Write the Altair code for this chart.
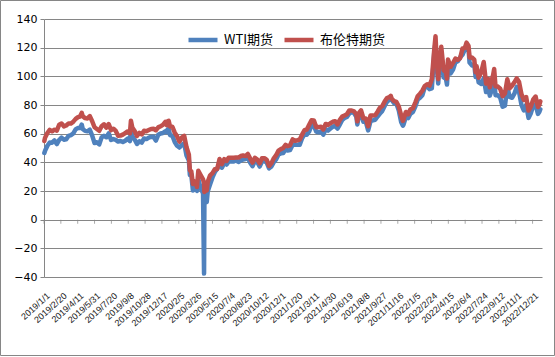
import altair as alt
import pandas as pd

# ---------------- data (weekly readings, plus notable days) ----------------
dates_2019 = [
    "2019-01-02", "2019-01-04", "2019-01-11", "2019-01-18", "2019-01-25",
    "2019-02-01", "2019-02-08", "2019-02-15", "2019-02-22",
    "2019-03-01", "2019-03-08", "2019-03-15", "2019-03-22", "2019-03-29",
    "2019-04-05", "2019-04-12", "2019-04-18", "2019-04-23", "2019-04-26",
    "2019-05-03", "2019-05-10", "2019-05-17", "2019-05-24", "2019-05-31",
    "2019-06-07", "2019-06-14", "2019-06-21", "2019-06-28",
    "2019-07-05", "2019-07-12", "2019-07-19", "2019-07-26",
    "2019-08-02", "2019-08-09", "2019-08-16", "2019-08-23", "2019-08-30",
    "2019-09-06", "2019-09-13", "2019-09-16", "2019-09-20", "2019-09-27",
    "2019-10-04", "2019-10-11", "2019-10-18", "2019-10-25",
    "2019-11-01", "2019-11-08", "2019-11-15", "2019-11-22", "2019-11-29",
    "2019-12-06", "2019-12-13", "2019-12-20", "2019-12-27", "2019-12-31",
]
wti_2019 = [
    46.54, 47.96, 51.59, 53.80, 53.69,
    55.26, 52.72, 55.59, 57.26,
    55.80, 56.07, 58.52, 59.04, 60.14,
    63.08, 63.89, 64.00, 66.30, 63.30,
    61.94, 61.66, 62.76, 58.63, 53.50,
    54.00, 52.51, 57.43, 58.47,
    57.51, 60.21, 55.63, 56.20,
    55.66, 54.50, 54.87, 54.17, 55.10,
    56.52, 54.85, 62.90, 58.09, 55.91,
    52.81, 54.70, 53.78, 56.66,
    56.20, 57.24, 57.72, 57.77, 55.17,
    59.20, 60.07, 60.44, 61.72, 61.06,
]
brent_2019 = [
    54.91, 57.06, 60.48, 62.70, 61.64,
    62.75, 62.10, 66.25, 67.12,
    65.07, 65.74, 67.16, 67.03, 68.39,
    70.34, 71.55, 71.97, 74.51, 72.15,
    70.85, 70.62, 72.21, 68.69, 64.49,
    63.29, 62.01, 65.20, 66.55,
    64.23, 66.72, 62.47, 63.46,
    61.89, 58.53, 58.64, 59.34, 60.43,
    61.54, 60.22, 69.02, 64.28, 61.91,
    58.37, 60.51, 59.42, 62.02,
    61.69, 62.51, 63.30, 63.39, 62.43,
    64.39, 65.22, 66.14, 68.16, 66.00,
]

dates_2020 = [
    "2020-01-03", "2020-01-06", "2020-01-10", "2020-01-17", "2020-01-24", "2020-01-31",
    "2020-02-07", "2020-02-14", "2020-02-21", "2020-02-28",
    "2020-03-06", "2020-03-09", "2020-03-13", "2020-03-18", "2020-03-20", "2020-03-27", "2020-03-30",
    "2020-04-03", "2020-04-09", "2020-04-17", "2020-04-20", "2020-04-21", "2020-04-24", "2020-04-28",
    "2020-05-01", "2020-05-08", "2020-05-15", "2020-05-22", "2020-05-29",
    "2020-06-05", "2020-06-12", "2020-06-19", "2020-06-26",
    "2020-07-02", "2020-07-10", "2020-07-17", "2020-07-24", "2020-07-31",
    "2020-08-07", "2020-08-14", "2020-08-21", "2020-08-28",
    "2020-09-04", "2020-09-11", "2020-09-18", "2020-09-25",
    "2020-10-02", "2020-10-09", "2020-10-16", "2020-10-23", "2020-10-30",
    "2020-11-06", "2020-11-13", "2020-11-20", "2020-11-27",
    "2020-12-04", "2020-12-11", "2020-12-18", "2020-12-24", "2020-12-31",
]
wti_2020 = [
    63.05, 63.27, 59.04, 58.54, 54.19, 51.56,
    50.32, 52.05, 53.38, 44.76,
    41.28, 31.13, 31.73, 20.37, 22.43, 21.51, 20.09,
    28.34, 22.76, 18.27, -37.63, 10.01, 16.94, 12.34,
    19.78, 24.74, 29.43, 33.25, 35.49,
    39.55, 36.26, 39.75, 38.49,
    40.65, 40.55, 40.59, 41.29, 40.27,
    41.22, 42.01, 42.34, 42.97,
    39.77, 37.33, 41.11, 40.25,
    37.05, 40.60, 40.88, 39.85, 35.79,
    37.14, 40.13, 42.15, 45.53,
    46.26, 46.57, 49.10, 48.23, 48.52,
]
brent_2020 = [
    68.60, 68.91, 64.98, 64.85, 60.69, 58.16,
    54.47, 57.32, 58.50, 50.52,
    45.27, 34.36, 33.85, 24.88, 26.98, 24.93, 22.76,
    34.11, 31.48, 28.08, 25.57, 19.33, 21.44, 20.46,
    26.44, 30.97, 32.50, 35.13, 35.33,
    42.30, 38.73, 42.19, 41.02,
    43.14, 43.24, 43.14, 43.34, 43.30,
    44.40, 44.80, 44.35, 45.81,
    42.66, 39.83, 43.15, 41.92,
    39.27, 42.85, 42.93, 41.77, 37.46,
    39.45, 42.78, 44.96, 48.18,
    49.25, 49.97, 52.26, 51.29, 51.80,
]

dates_2021 = [
    "2021-01-08", "2021-01-15", "2021-01-22", "2021-01-29",
    "2021-02-05", "2021-02-12", "2021-02-19", "2021-02-26",
    "2021-03-05", "2021-03-12", "2021-03-19", "2021-03-26",
    "2021-04-02", "2021-04-09", "2021-04-16", "2021-04-23", "2021-04-30",
    "2021-05-07", "2021-05-14", "2021-05-21", "2021-05-28",
    "2021-06-04", "2021-06-11", "2021-06-18", "2021-06-25",
    "2021-07-02", "2021-07-09", "2021-07-16", "2021-07-19", "2021-07-23", "2021-07-30",
    "2021-08-06", "2021-08-13", "2021-08-20", "2021-08-27",
    "2021-09-03", "2021-09-10", "2021-09-17", "2021-09-24",
    "2021-10-01", "2021-10-08", "2021-10-15", "2021-10-22", "2021-10-26", "2021-10-29",
    "2021-11-05", "2021-11-12", "2021-11-19", "2021-11-26",
    "2021-12-01", "2021-12-03", "2021-12-10", "2021-12-17", "2021-12-23", "2021-12-31",
]
wti_2021 = [
    52.24, 52.36, 52.27, 52.20,
    56.85, 59.47, 59.24, 61.50,
    66.09, 65.61, 61.42, 60.97,
    61.45, 59.32, 63.13, 62.14, 63.58,
    64.90, 65.37, 63.58, 66.32,
    69.62, 70.91, 71.64, 74.05,
    75.16, 74.56, 71.81, 66.42, 72.07, 73.95,
    68.28, 68.44, 62.32, 68.74,
    69.29, 69.72, 71.97, 73.98,
    75.88, 79.35, 82.28, 83.76, 84.65, 83.57,
    81.27, 80.79, 76.10, 68.15,
    65.57, 66.26, 71.67, 70.86, 73.79, 75.21,
]
brent_2021 = [
    55.99, 55.10, 55.41, 55.88,
    59.34, 62.43, 62.91, 66.13,
    69.36, 69.22, 64.53, 64.57,
    64.86, 62.95, 66.77, 66.11, 67.25,
    68.28, 68.71, 66.44, 69.63,
    71.89, 72.69, 73.51, 76.18,
    76.17, 75.55, 73.59, 68.62, 74.10, 76.33,
    70.70, 70.59, 65.18, 72.70,
    72.61, 72.92, 75.34, 78.09,
    79.28, 82.39, 84.86, 85.53, 86.40, 84.38,
    82.74, 82.17, 78.89, 72.72,
    68.87, 69.88, 75.15, 73.52, 76.85, 77.78,
]

dates_2022 = [
    "2022-01-07", "2022-01-14", "2022-01-21", "2022-01-28",
    "2022-02-04", "2022-02-11", "2022-02-18", "2022-02-25",
    "2022-03-04", "2022-03-08", "2022-03-11", "2022-03-16", "2022-03-18", "2022-03-25",
    "2022-04-01", "2022-04-08", "2022-04-11", "2022-04-14", "2022-04-22", "2022-04-29",
    "2022-05-06", "2022-05-13", "2022-05-20", "2022-05-27",
    "2022-06-03", "2022-06-08", "2022-06-14", "2022-06-17", "2022-06-24",
    "2022-07-01", "2022-07-05", "2022-07-08", "2022-07-14", "2022-07-22", "2022-07-29",
    "2022-08-05", "2022-08-12", "2022-08-16", "2022-08-26", "2022-08-29",
    "2022-09-02", "2022-09-09", "2022-09-16", "2022-09-23", "2022-09-30",
    "2022-10-07", "2022-10-14", "2022-10-21", "2022-10-28",
    "2022-11-04", "2022-11-11", "2022-11-18", "2022-11-25",
    "2022-12-02", "2022-12-09", "2022-12-16", "2022-12-23", "2022-12-30",
    "2023-01-06", "2023-01-10", "2023-01-13",
]
wti_2022 = [
    78.90, 83.82, 85.14, 86.82,
    92.31, 93.10, 91.07, 91.59,
    115.68, 123.70, 109.33, 95.04, 104.70, 113.90,
    99.27, 98.26, 94.29, 106.95, 102.07, 104.69,
    109.77, 110.49, 113.23, 115.07,
    118.87, 122.11, 118.93, 109.56, 107.62,
    108.43, 99.50, 104.79, 95.78, 94.70, 98.62,
    89.01, 92.09, 86.53, 93.06, 97.01,
    86.87, 86.79, 85.11, 78.74, 79.49,
    92.64, 85.61, 85.05, 87.90,
    92.61, 88.96, 80.08, 76.28,
    79.98, 71.02, 74.29, 79.56, 80.26,
    73.77, 75.12, 77.00,
]
brent_2022 = [
    81.75, 86.06, 87.89, 90.03,
    93.27, 94.44, 93.54, 97.93,
    118.11, 127.98, 112.67, 98.02, 107.93, 120.65,
    104.39, 102.78, 98.48, 111.70, 106.65, 109.34,
    112.39, 111.55, 112.55, 119.43,
    119.72, 123.58, 121.17, 113.12, 113.12,
    111.63, 102.77, 107.02, 99.10, 103.20, 110.01,
    94.92, 98.15, 92.34, 100.99, 105.09,
    93.02, 92.84, 91.35, 86.15, 87.96,
    97.92, 91.63, 93.50, 95.77,
    98.57, 95.99, 87.62, 83.63,
    85.57, 76.10, 79.04, 83.92, 85.91,
    78.57, 80.10, 82.50,
]

series_names = ["WTI期货", "布伦特期货"]
series_colors = ["#4F81BD", "#C0504D"]

x_tick_labels = [
    "2019/1/1", "2019/2/20", "2019/4/11", "2019/5/31", "2019/7/20", "2019/9/8",
    "2019/10/28", "2019/12/17", "2020/2/5", "2020/3/26", "2020/5/15", "2020/7/4",
    "2020/8/23", "2020/10/12", "2020/12/1", "2021/1/20", "2021/3/11", "2021/4/30",
    "2021/6/19", "2021/8/8", "2021/9/27", "2021/11/16", "2022/1/5", "2022/2/24",
    "2022/4/15", "2022/6/4", "2022/7/24", "2022/9/12", "2022/11/1", "2022/12/21",
]
y_ticks = [-40, -20, 0, 20, 40, 60, 80, 100, 120, 140]
x_domain = ["2019/1/1", "2023/1/18"]

# ---------------- build tables ----------------
dates = dates_2019 + dates_2020 + dates_2021 + dates_2022
wti = wti_2019 + wti_2020 + wti_2021 + wti_2022
brent = brent_2019 + brent_2020 + brent_2021 + brent_2022
assert len(dates) == len(wti) == len(brent)

rows = []
for name, vals in zip(series_names, [wti, brent]):
    for d, v in zip(dates, vals):
        rows.append({"date": d, "series": name, "value": v})
df = pd.DataFrame(rows)


def to_dt(s):
    y, m, d = (int(p) for p in s.split("/"))
    return alt.DateTime(year=y, month=m, date=d, utc=True)


def to_iso(s):
    y, m, d = (int(p) for p in s.split("/"))
    return f"{y:04d}-{m:02d}-{d:02d}"


tick_df = pd.DataFrame({"date": [to_iso(s) for s in x_tick_labels], "value": [0] * len(x_tick_labels)})

GRID = "#868686"

x_scale = alt.Scale(type="utc", domain=[to_dt(x_domain[0]), to_dt(x_domain[1])])
y_scale = alt.Scale(domain=[y_ticks[0], y_ticks[-1]], nice=False, zero=False)

x_axis = alt.Axis(
    values=[to_dt(s) for s in x_tick_labels],
    labelExpr="utcFormat(datum.value, '%Y/%-m/%-d')",
    title=None,
    grid=False,
    domain=False,
    ticks=False,
    labelAngle=-42,
    labelAlign="right",
    labelBaseline="middle",
    labelPadding=17,
    labelOffset=4,
    labelFont="Liberation Sans",
    labelFontSize=9,
    labelColor="#222222",
    labelOverlap=False,
    labelBound=False,
    labelFlush=False,
)
y_axis = alt.Axis(
    values=y_ticks,
    title=None,
    grid=True,
    gridColor=GRID,
    gridWidth=1,
    domainColor=GRID,
    tickColor=GRID,
    tickSize=4,
    labelPadding=3,
    labelFont="DejaVu Sans",
    labelFontSize=11,
    labelColor="black",
)

lines = alt.Chart(df).mark_line(strokeWidth=4.5, strokeJoin="round", strokeCap="round").encode(
    x=alt.X("date:T", scale=x_scale, axis=x_axis),
    y=alt.Y("value:Q", scale=y_scale, axis=y_axis),
    color=alt.Color(
        "series:N",
        scale=alt.Scale(domain=series_names, range=series_colors),
        legend=alt.Legend(
            title=None,
            orient="none",
            legendX=142,
            legendY=4,
            direction="horizontal",
            symbolType="stroke",
            symbolSize=841,
            symbolStrokeWidth=4.5,
            labelFont="Noto Sans CJK SC",
            labelFontSize=13,
            labelColor="black",
            labelOffset=4,
            columnPadding=1,
        ),
    ),
    order=alt.Order("series:N"),
)

zero_ticks = alt.Chart(tick_df).mark_tick(orient="vertical", size=4, thickness=1, yOffset=2, color=GRID).encode(
    x=alt.X("date:T", scale=x_scale, axis=x_axis),
    y=alt.Y("value:Q", scale=y_scale, axis=y_axis),
)

frame = alt.Chart(alt.Data(values=[{"k": 1}])).mark_rect(
    filled=False, stroke=GRID, strokeWidth=1
).encode(
    x=alt.value(-43.5), x2=alt.value(510.5), y=alt.value(-18.5), y2=alt.value(336.5)
)

chart = alt.layer(lines, zero_ticks, frame).properties(
    width=498,
    height=258,
    autosize=alt.AutoSizeParams(type="none"),
    padding={"left": 44, "top": 19, "right": 13, "bottom": 80},
    background="white",
).configure_view(stroke=None)

chart.save("out.html", embed_options={"renderer": "svg", "actions": False})
